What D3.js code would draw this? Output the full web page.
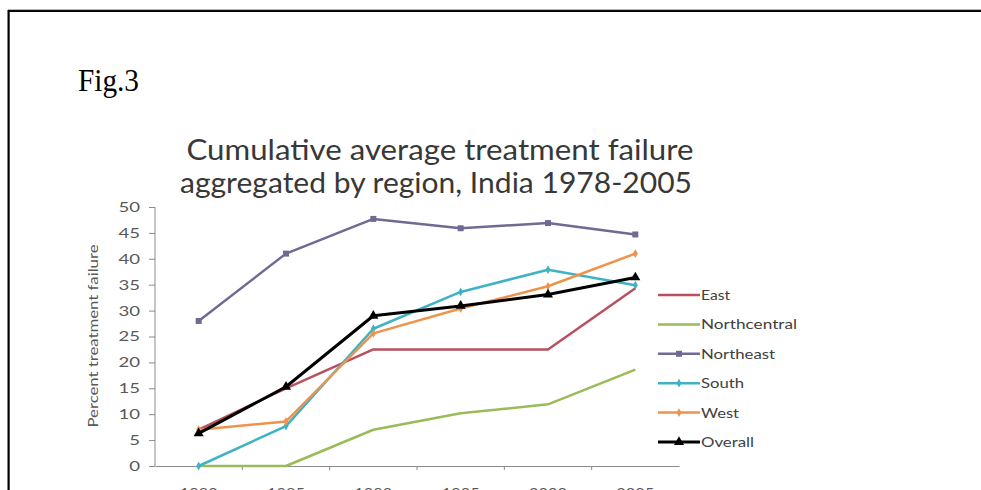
<!DOCTYPE html>
<html><head><meta charset="utf-8">
<script src="https://cdn.jsdelivr.net/npm/d3@7"></script>
<style>html,body{margin:0;padding:0;background:#fff;overflow:hidden}</style>
</head><body>
<svg id="c" width="981" height="490"></svg>
<script>
const years = ["1980","1985","1990","1995","2000","2005"];
const yTicks = [0,5,10,15,20,25,30,35,40,45,50];
const seriesNames = ["East","Northcentral","Northeast","South","West","Overall"];
const east = [7, 15, 22.5, 22.5, 22.5, 34.3];
const northcentral = [0, 0, 7, 10.2, 11.9, 18.6];
const northeast = [28, 41, 47.7, 45.9, 46.9, 44.7];
const south = [0, 7.7, 26.5, 33.6, 37.9, 34.9];
const west = [7, 8.6, 25.6, 30.4, 34.7, 41];
const overall = [6.3, 15.3, 29, 30.9, 33.1, 36.4];

const seriesValues = [east, northcentral, northeast, south, west, overall];
const colors = ["#b8505e","#9bbb59","#6f6a93","#3fb2c4","#f0924a","#000000"];
const widths = [2.5,2.5,2.5,2.5,2.5,3];
const markers = [null,null,"square","diamond","diamond","triangle"];
const legendWidths = [29,96,74,43,38,53];

const FONT = "Lato, 'Open Sans', sans-serif";
const svg = d3.select("#c");
// page frame
svg.append("line").attr("x1",8).attr("x2",981).attr("y1",11).attr("y2",11).attr("stroke","#000").attr("stroke-width",2.2);
svg.append("line").attr("x1",8).attr("x2",981).attr("y1",9.6).attr("y2",9.6).attr("stroke","#999").attr("stroke-width",0.8);
svg.append("line").attr("x1",8.6).attr("x2",8.6).attr("y1",10).attr("y2",490).attr("stroke","#000").attr("stroke-width",2.2);

svg.append("text").attr("x",78).attr("y",91).attr("font-family","Liberation Serif").attr("font-size",31)
  .attr("fill","#000").attr("textLength",61).attr("lengthAdjust","spacingAndGlyphs").text("Fig.3");

// title
const title = svg.append("text").attr("font-family",FONT).attr("font-size",28)
  .attr("fill","#383838").attr("text-anchor","middle");
title.append("tspan").attr("x",440).attr("y",160).attr("textLength",507).attr("lengthAdjust","spacingAndGlyphs")
  .text("Cumulative average treatment failure");
title.append("tspan").attr("x",436).attr("y",193).attr("textLength",512).attr("lengthAdjust","spacingAndGlyphs")
  .text("aggregated by region, India 1978-2005");

const x = d3.scaleBand().domain(years).range([155,679]);
const y = d3.scaleLinear().domain([0,50]).range([466,207]);

const gray = "#8a8a8a";
// y axis
const ya = svg.append("g").attr("transform","translate(155,0)")
  .call(d3.axisLeft(y).tickValues(yTicks).tickSize(6).tickPadding(9));
ya.select(".domain").attr("stroke",gray).attr("d","M-0,207V466");
ya.selectAll(".tick line").attr("stroke",gray);
ya.selectAll(".tick text").attr("font-family",FONT).attr("font-size",14).attr("fill","#595959")
  .attr("textLength",d=>String(d).length*10.8).attr("lengthAdjust","spacingAndGlyphs");

// x axis
const xa = svg.append("g").attr("transform","translate(0,466)")
  .call(d3.axisBottom(x).tickSize(0).tickPadding(17));
xa.select(".domain").attr("stroke",gray);
xa.selectAll(".tick text").attr("font-family",FONT).attr("font-size",14).attr("fill","#595959")
  .attr("dy","1.05em").attr("textLength",38).attr("lengthAdjust","spacingAndGlyphs");
xa.selectAll(".bnd").data(years.slice(1)).enter().append("line").attr("class","bnd")
  .attr("x1",d=>x(d)).attr("x2",d=>x(d)).attr("y1",0).attr("y2",4).attr("stroke",gray);

svg.append("text").attr("transform","translate(98,336) rotate(-90)").attr("text-anchor","middle")
  .attr("font-family",FONT).attr("font-size",14).attr("fill","#595959")
  .attr("textLength",183).attr("lengthAdjust","spacingAndGlyphs")
  .text("Percent treatment failure");

const cx = d => x(d) + x.bandwidth()/2;
const line = d3.line().x((v,i)=>cx(years[i])).y(v=>y(v));
const symType = {square:d3.symbolSquare, diamond:d3.symbolDiamond, triangle:d3.symbolTriangle};
const symSize = {square:36, diamond:22, triangle:44};

seriesValues.forEach((vals,k)=>{
  svg.append("path").attr("d",line(vals)).attr("fill","none").attr("stroke",colors[k])
    .attr("stroke-width",widths[k]).attr("stroke-linejoin","round");
  if(markers[k]){
    svg.selectAll(".m"+k).data(vals).enter().append("path").attr("class","m"+k)
      .attr("transform",(v,i)=>`translate(${cx(years[i])},${y(v)})`)
      .attr("d",d3.symbol().type(symType[markers[k]]).size(symSize[markers[k]]))
      .attr("fill",colors[k]);
  }
});

// legend
const lg = svg.append("g");
seriesNames.forEach((n,k)=>{
  const ly = 295 + k*29.4;
  lg.append("line").attr("x1",658).attr("x2",700).attr("y1",ly).attr("y2",ly)
    .attr("stroke",colors[k]).attr("stroke-width",widths[k]);
  if(markers[k]){
    lg.append("path").attr("transform",`translate(679,${ly})`)
      .attr("d",d3.symbol().type(symType[markers[k]]).size(symSize[markers[k]])).attr("fill",colors[k]);
  }
  lg.append("text").attr("x",701).attr("y",ly+5).attr("font-family",FONT)
    .attr("font-size",13.5).attr("fill","#404040")
    .attr("textLength",legendWidths[k]).attr("lengthAdjust","spacingAndGlyphs").text(n);
});
</script>
</body></html>
